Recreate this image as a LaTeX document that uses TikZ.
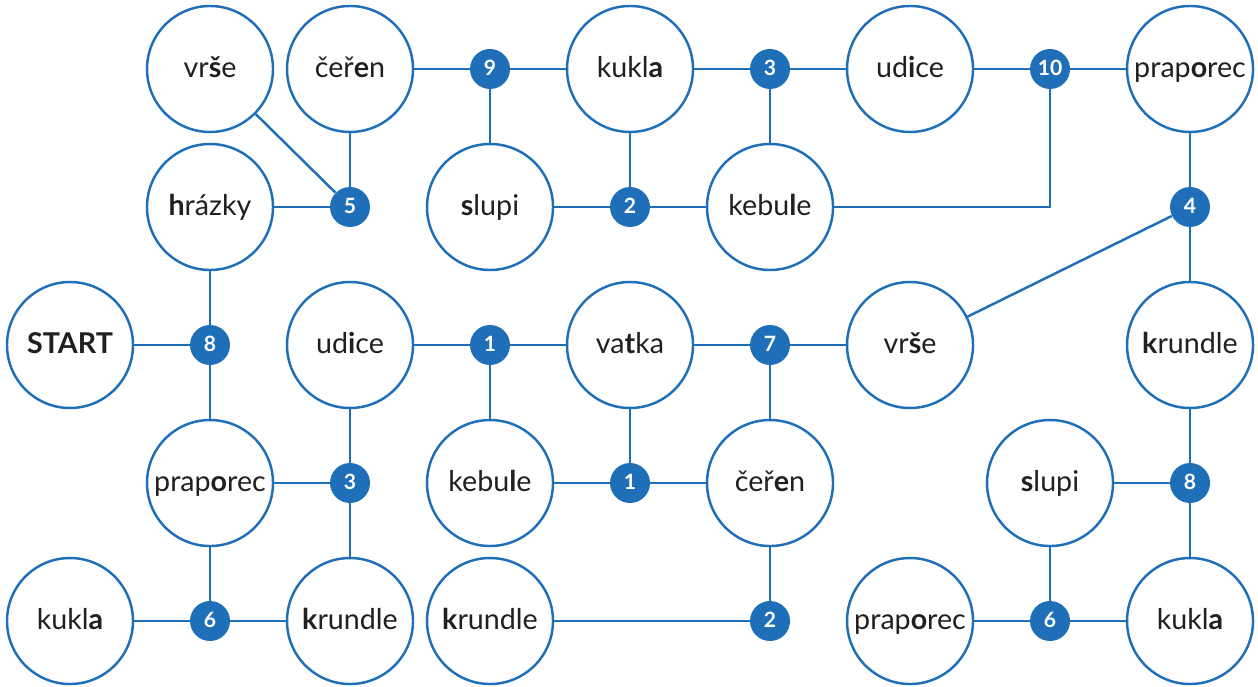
\documentclass[tikz,border=0pt]{standalone}
\usepackage{fontspec}
\setmainfont{Lato}
\usepackage{tikz}

\definecolor{tblue}{HTML}{1F6FB8}
\definecolor{tgray}{HTML}{231F20}

\tikzset{
  word/.style = {circle, draw = tblue, line width = 1.4pt, fill = white,
                 minimum size = 2.52cm, inner sep = 0pt, text = tgray,
                 text height = 0.92em, text depth = 0pt,
                 font = \fontsize{16.3}{19}\selectfont},
  num/.style  = {circle, fill = tblue, minimum size = 0.8cm, inner sep = 0pt,
                 text = white, text height = 0.72em, text depth = 0pt,
                 font = \fontsize{12}{14}\selectfont\bfseries},
  link/.style = {draw = tblue, line width = 1.4pt}
}

\begin{document}
\begin{tikzpicture}[x = 1.4cm, y = -1.38cm]
        \useasboundingbox (0,0) rectangle (17.971,9.942);

        % row 1
        \node [word] (vrseA)     at (3,1)  {vr\textbf{š}e};
        \node [word] (cerenA)    at (5,1)  {čeř\textbf{e}n};
        \node [num]  (n9)        at (7,1)  {9};
        \node [word] (kuklaA)    at (9,1)  {kukl\textbf{a}};
        \node [num]  (n3a)       at (11,1) {3};
        \node [word] (udiceA)    at (13,1) {ud\textbf{i}ce};
        \node [num]  (n10)       at (15,1) {10};
        \node [word] (praporecA) at (17,1) {prap\textbf{o}rec};

        % row 2
        \node [word] (hrazky)    at (3,3)  {\textbf{h}rázky};
        \node [num]  (n5)        at (5,3)  {5};
        \node [word] (slupiA)    at (7,3)  {\textbf{s}lupi};
        \node [num]  (n2a)       at (9,3)  {2};
        \node [word] (kebuleA)   at (11,3) {kebu\textbf{l}e};
        \node [num]  (n4)        at (17,3) {4};

        % row 3
        \node [word] (start)     at (1,5)  {\textbf{START}};
        \node [num]  (n8a)       at (3,5)  {8};
        \node [word] (udiceB)    at (5,5)  {ud\textbf{i}ce};
        \node [num]  (n1a)       at (7,5)  {1};
        \node [word] (vatka)     at (9,5)  {va\textbf{t}ka};
        \node [num]  (n7)        at (11,5) {7};
        \node [word] (vrseB)     at (13,5) {vr\textbf{š}e};
        \node [word] (krundleA)  at (17,5) {\textbf{k}rundle};

        % row 4
        \node [word] (praporecB) at (3,7)  {prap\textbf{o}rec};
        \node [num]  (n3b)       at (5,7)  {3};
        \node [word] (kebuleB)   at (7,7)  {kebu\textbf{l}e};
        \node [num]  (n1b)       at (9,7)  {1};
        \node [word] (cerenB)    at (11,7) {čeř\textbf{e}n};
        \node [word] (slupiB)    at (15,7) {\textbf{s}lupi};
        \node [num]  (n8b)       at (17,7) {8};

        % row 5
        \node [word] (kuklaB)    at (1,9)  {kukl\textbf{a}};
        \node [num]  (n6a)       at (3,9)  {6};
        \node [word] (krundleB)  at (5,9)  {\textbf{k}rundle};
        \node [word] (krundleC)  at (7,9)  {\textbf{k}rundle};
        \node [num]  (n2b)       at (11,9) {2};
        \node [word] (praporecC) at (13,9) {prap\textbf{o}rec};
        \node [num]  (n6b)       at (15,9) {6};
        \node [word] (kuklaC)    at (17,9) {kukl\textbf{a}};

        % connections
        \draw [link] (vrseA) -- (n5);
        \draw [link] (cerenA) -- (n5);
        \draw [link] (hrazky) -- (n5);
        \draw [link] (cerenA) -- (n9) -- (kuklaA);
        \draw [link] (n9) -- (slupiA);
        \draw [link] (kuklaA) -- (n3a) -- (udiceA);
        \draw [link] (kuklaA) -- (n2a);
        \draw [link] (slupiA) -- (n2a) -- (kebuleA);
        \draw [link] (n3a) -- (kebuleA);
        \draw [link] (udiceA) -- (n10) -- (praporecA);
        \draw [link] (kebuleA) -| (n10);
        \draw [link] (praporecA) -- (n4);
        \draw [link] (n4) -- (vrseB);
        \draw [link] (n4) -- (krundleA);
        \draw [link] (hrazky) -- (n8a);
        \draw [link] (start) -- (n8a);
        \draw [link] (n8a) -- (praporecB);
        \draw [link] (udiceB) -- (n1a) -- (vatka) -- (n7) -- (vrseB);
        \draw [link] (udiceB) -- (n3b);
        \draw [link] (n1a) -- (kebuleB);
        \draw [link] (vatka) -- (n1b);
        \draw [link] (kebuleB) -- (n1b) -- (cerenB);
        \draw [link] (n7) -- (cerenB);
        \draw [link] (praporecB) -- (n3b);
        \draw [link] (n3b) -- (krundleB);
        \draw [link] (praporecB) -- (n6a);
        \draw [link] (kuklaB) -- (n6a) -- (krundleB);
        \draw [link] (krundleC) -- (n2b);
        \draw [link] (cerenB) -- (n2b);
        \draw [link] (krundleA) -- (n8b);
        \draw [link] (slupiB) -- (n8b);
        \draw [link] (n8b) -- (kuklaC);
        \draw [link] (slupiB) -- (n6b);
        \draw [link] (praporecC) -- (n6b) -- (kuklaC);

    \end{tikzpicture}
\end{document}
